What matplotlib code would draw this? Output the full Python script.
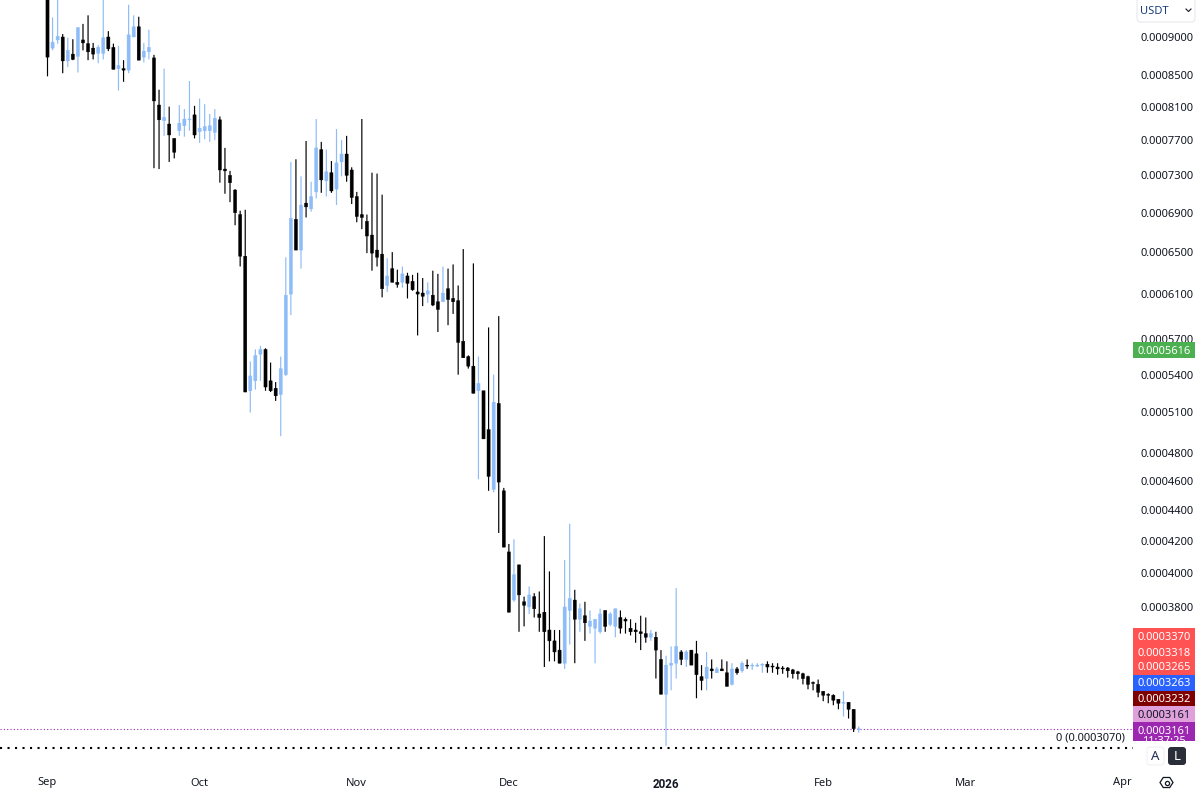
import numpy as np
import pandas as pd
import matplotlib
matplotlib.use("Agg")
import matplotlib.pyplot as plt
import matplotlib.dates as mdates
from matplotlib.patches import FancyBboxPatch, Rectangle, Polygon

plt.rcParams['font.family'] = ['Noto Sans', 'DejaVu Sans']

# daily candles, prices in units of 1e-4 USDT
start_date = "2025-09-01"
opens = [
    9.70, 8.85, 8.96, 9.00, 8.68, 8.77, 8.74, 8.96, 8.91, 8.85,
    8.78, 8.78, 9.00, 8.86, 8.58, 8.58, 8.56, 9.00, 9.14, 8.73,
    8.80, 8.72, 8.12, 7.93, 7.89, 7.72, 7.81, 7.87, 7.94, 8.00,
    7.80, 7.81, 7.81, 7.79, 7.94, 7.37, 7.30, 7.14, 6.88, 6.46,
    5.27, 5.35, 5.57, 5.61, 5.35, 5.29, 5.24, 5.40, 6.10, 6.83,
    6.52, 7.00, 6.94, 7.12, 7.59, 7.24, 7.33, 7.15, 7.45, 7.54,
    7.36, 7.07, 6.88, 6.81, 6.67, 6.52, 6.48, 6.18, 6.34, 6.21,
    6.21, 6.27, 6.22, 6.12, 6.11, 6.10, 6.09, 6.03, 6.03, 6.15,
    6.06, 6.04, 5.68, 5.55, 5.47, 5.27, 5.27, 4.97, 4.54, 5.17,
    4.53, 4.13, 3.84, 4.05, 3.83, 3.80, 3.86, 3.76, 3.77, 3.67,
    3.61, 3.56, 3.49, 3.78, 3.84, 3.73, 3.75, 3.69, 3.68, 3.66,
    3.78, 3.70, 3.69, 3.74, 3.73, 3.68, 3.67, 3.66, 3.65, 3.63,
    3.63, 3.51, 3.33, 3.48, 3.49, 3.55, 3.51, 3.56, 3.54, 3.42,
    3.41, 3.46, 3.44, 3.46, 3.44, 3.38, 3.46, 3.45, 3.48, 3.475,
    3.475, 3.48, 3.485, 3.475, 3.47, 3.465, 3.465, 3.455, 3.445, 3.435,
    3.42, 3.39, 3.38, 3.345, 3.33, 3.325, 3.305, 3.285, 3.29, 3.255, 3.156,
]
highs = [
    9.85, 9.27, 9.60, 9.04, 8.99, 8.97, 9.13, 9.18, 9.30, 8.92,
    8.89, 9.60, 9.08, 8.91, 8.88, 8.69, 9.45, 9.30, 9.28, 8.92,
    9.10, 8.76, 8.31, 8.58, 8.10, 7.72, 8.12, 8.07, 8.42, 8.11,
    8.20, 8.13, 8.01, 8.07, 7.98, 7.61, 7.35, 7.15, 6.92, 6.93,
    5.51, 5.61, 5.64, 5.62, 5.50, 5.34, 5.55, 6.45, 7.45, 7.48,
    7.29, 7.69, 7.23, 7.95, 7.68, 7.59, 7.46, 7.83, 7.70, 7.75,
    7.39, 7.12, 7.95, 6.88, 7.33, 7.32, 7.09, 6.44, 6.50, 6.33,
    6.36, 6.30, 6.28, 6.30, 6.25, 6.21, 6.32, 6.29, 6.36, 6.34,
    6.38, 6.18, 6.53, 5.56, 6.39, 5.55, 5.27, 5.80, 5.40, 5.90,
    4.55, 4.18, 4.21, 4.05, 3.86, 3.92, 3.88, 3.89, 4.23, 4.01,
    3.67, 3.67, 4.08, 4.31, 3.90, 3.82, 3.83, 3.78, 3.73, 3.79,
    3.78, 3.77, 3.79, 3.78, 3.74, 3.73, 3.71, 3.75, 3.74, 3.67,
    3.66, 3.56, 3.53, 3.58, 3.91, 3.56, 3.56, 3.56, 3.61, 3.48,
    3.55, 3.51, 3.47, 3.51, 3.50, 3.49, 3.47, 3.50, 3.51, 3.49,
    3.49, 3.49, 3.50, 3.49, 3.49, 3.475, 3.47, 3.46, 3.45, 3.44,
    3.425, 3.395, 3.405, 3.345, 3.335, 3.33, 3.305, 3.345, 3.29, 3.255, 3.172,
]
lows = [
    8.48, 8.82, 8.91, 8.52, 8.60, 8.69, 8.53, 8.82, 8.69, 8.70,
    8.65, 8.70, 8.81, 8.57, 8.30, 8.41, 8.52, 9.00, 8.69, 8.66,
    8.70, 7.38, 7.37, 7.75, 7.45, 7.49, 7.75, 7.74, 7.81, 7.72,
    7.67, 7.71, 7.68, 7.70, 7.22, 7.10, 7.01, 6.77, 6.36, 5.26,
    5.10, 5.28, 5.35, 5.27, 5.26, 5.19, 4.92, 5.39, 5.91, 6.52,
    6.34, 6.85, 6.91, 7.05, 7.11, 7.07, 7.11, 6.98, 7.29, 7.23,
    6.99, 6.80, 6.73, 6.49, 6.32, 6.36, 6.07, 6.12, 6.21, 6.16,
    6.16, 6.06, 6.13, 5.73, 5.99, 6.02, 5.99, 5.76, 6.03, 5.82,
    5.92, 5.40, 5.54, 5.45, 5.25, 4.61, 4.90, 4.53, 4.52, 4.25,
    4.16, 3.77, 3.83, 3.66, 3.69, 3.76, 3.74, 3.66, 3.47, 3.50,
    3.50, 3.49, 3.46, 3.59, 3.49, 3.66, 3.61, 3.65, 3.49, 3.65,
    3.66, 3.69, 3.63, 3.65, 3.65, 3.64, 3.60, 3.56, 3.60, 3.61,
    3.41, 3.33, 3.08, 3.35, 3.41, 3.48, 3.47, 3.48, 3.31, 3.35,
    3.35, 3.41, 3.44, 3.45, 3.37, 3.375, 3.43, 3.44, 3.46, 3.455,
    3.47, 3.44, 3.44, 3.44, 3.43, 3.435, 3.415, 3.41, 3.405, 3.38,
    3.355, 3.35, 3.315, 3.295, 3.285, 3.275, 3.255, 3.22, 3.21, 3.145, 3.142,
]
closes = [
    8.73, 8.93, 9.01, 8.68, 8.82, 8.70, 9.13, 8.92, 8.80, 8.77,
    8.86, 8.99, 8.84, 8.57, 8.62, 8.56, 9.03, 9.14, 8.69, 8.81,
    8.86, 8.17, 7.94, 7.97, 7.76, 7.56, 7.90, 7.95, 7.95, 7.76,
    7.84, 7.86, 7.87, 7.96, 7.36, 7.35, 7.22, 6.90, 6.46, 5.26,
    5.39, 5.56, 5.61, 5.30, 5.27, 5.23, 5.45, 6.09, 6.84, 6.52,
    6.98, 6.96, 7.07, 7.61, 7.25, 7.34, 7.13, 7.44, 7.54, 7.30,
    7.06, 6.86, 6.85, 6.66, 6.49, 6.45, 6.15, 6.27, 6.21, 6.19,
    6.29, 6.20, 6.14, 6.10, 6.08, 6.13, 6.00, 5.96, 6.11, 6.05,
    6.03, 5.67, 5.54, 5.47, 5.25, 5.33, 4.90, 4.63, 5.18, 4.59,
    4.16, 3.77, 3.99, 3.87, 3.81, 3.87, 3.79, 3.74, 3.66, 3.61,
    3.55, 3.49, 3.80, 3.85, 3.73, 3.79, 3.71, 3.72, 3.73, 3.76,
    3.69, 3.76, 3.79, 3.68, 3.72, 3.66, 3.66, 3.65, 3.63, 3.65,
    3.56, 3.33, 3.48, 3.49, 3.58, 3.51, 3.55, 3.48, 3.43, 3.40,
    3.47, 3.45, 3.46, 3.45, 3.37, 3.46, 3.44, 3.49, 3.475, 3.48,
    3.48, 3.485, 3.47, 3.47, 3.46, 3.46, 3.45, 3.435, 3.435, 3.41,
    3.38, 3.385, 3.34, 3.325, 3.325, 3.30, 3.285, 3.29, 3.255, 3.161, 3.161,
]

price_ticks = [9.0, 8.5, 8.1, 7.7, 7.3, 6.9, 6.5, 6.1, 5.7, 5.4, 5.1, 4.8, 4.6, 4.4, 4.2, 4.0, 3.8]
month_labels = ["Sep", "Oct", "Nov", "Dec", "2026", "Feb", "Mar", "Apr"]
month_starts = ["2025-09-01", "2025-10-01", "2025-11-01", "2025-12-01",
                "2026-01-01", "2026-02-01", "2026-03-01", "2026-04-01"]

last_price = 3.161
zero_level = 3.070
green_label = ("0.0005616", 5.616)
# right-hand price tags, stacked (text, fill, text colour)
tag_text = ["0.0003370", "0.0003318", "0.0003265", "0.0003263", "0.0003232", "0.0003161", "0.0003161"]
tag_fill = ["#ff5252", "#ff5252", "#ff5252", "#2962ff", "#7f0000", "#dfa0dc", "#9c27b0"]
tag_color = ["white", "white", "white", "white", "white", "#131722", "white"]

UP = "#8dbcf8"
DOWN = "#000000"
TEXT = "#131722"
FONT = 8.0

opens = np.array(opens)
highs = np.array(highs)
lows = np.array(lows)
closes = np.array(closes)
dates = mdates.date2num(pd.date_range(start_date, periods=len(opens)))
colors = [UP if c >= o else DOWN for o, c in zip(opens, closes)]

fig = plt.figure(figsize=(12, 7.93), dpi=100, facecolor="white")
ax = fig.add_axes([0, 1 - 765 / 793, 1133 / 1200, 765 / 793])

# log price scale, one pixel is about 0.15 %
ax.set_yscale("log")
ax.set_ylim(2.992, 9.518)
first_day = dates[0]
ax.set_xlim(first_day - 47.5 / 5.07, first_day + (1133 - 47.5) / 5.07)

wicks = ax.vlines(dates, lows, highs, colors=colors, linewidth=0.85, zorder=2)
wicks.set_snap(False)
body_low = np.minimum(opens, closes)
body_high = np.maximum(opens, closes)
bars = ax.bar(dates, body_high - body_low, bottom=body_low, width=0.62,
              color=colors, edgecolor=colors, linewidth=0.3, zorder=3)
for b in bars:
    b.set_snap(False)

ax.axhline(last_price, color="#9c27b0", linewidth=0.8, linestyle=(0, (1, 2)), zorder=1)
ax.axhline(zero_level, color="black", linewidth=1.5, linestyle=(0, (1, 2.6)), zorder=1)
ax.text(1125 / 1133, zero_level * 1.0155, "0 (0.0003070)", transform=ax.get_yaxis_transform(),
        ha="right", va="center", fontsize=FONT, color=TEXT)

for side in ax.spines.values():
    side.set_visible(False)
ax.yaxis.tick_right()
ax.set_yticks(price_ticks)
ax.set_yticklabels([f"{p * 1e-4:.7f}" for p in price_ticks], fontsize=FONT, color=TEXT)
ax.minorticks_off()
ax.tick_params(axis="y", length=0, pad=5.5)
ax.set_xticks(mdates.date2num(pd.to_datetime(month_starts)))
ax.set_xticklabels(month_labels, fontsize=FONT, color=TEXT)
ax.tick_params(axis="x", length=0, pad=9)
# the year label is the only bold one
year_label = ax.get_xticklabels()[4]
year_label.set_fontfamily("Roboto")
year_label.set_fontweight("bold")
year_label.set_fontsize(8.4)

# everything around the plot area is placed in pixel coordinates
ui = fig.add_axes([0, 0, 1, 1], facecolor="none")
ui.set_xlim(0, 1200)
ui.set_ylim(793, 0)
ui.axis("off")

ui.add_patch(Rectangle((1133, 342), 62, 16, facecolor="#4caf50", edgecolor="none"))
ui.text(1164, 351, green_label[0], color="white", ha="center", va="center", fontsize=FONT)

tag_y = [628, 644, 659, 675, 691, 706, 722]
tag_h = [16, 15, 16, 16, 15, 16, 19]
for y, h, txt, fill, col in zip(tag_y, tag_h, tag_text, tag_fill, tag_color):
    ui.add_patch(Rectangle((1133, y), 62, h, facecolor=fill, edgecolor="none"))
    ui.text(1164, y + 9, txt, color=col, ha="center", va="center", fontsize=FONT)

# countdown under the last price, cut off by its tag
clip_box = Rectangle((1133, 722), 62, 19, transform=ui.transData)
countdown = ui.text(1164, 742, "11:37:25", color="white", ha="center", va="center", fontsize=FONT)
countdown.set_clip_path(clip_box)

# currency selector
ui.add_patch(FancyBboxPatch((1137, -8), 58, 30, boxstyle="round,pad=0,rounding_size=4",
                            facecolor="white", edgecolor="#e8e9ed", linewidth=0.8))
ui.text(1140, 11, "USDT", color="#1c3f7c", ha="left", va="center", fontsize=FONT)
ui.plot([1186, 1188.5, 1191], [9, 11.5, 9], color=TEXT, linewidth=0.8)

# auto / log buttons
ui.add_patch(FancyBboxPatch((1147, 747), 17, 18, boxstyle="round,pad=0,rounding_size=3",
                            facecolor="white", edgecolor="#f0f1f4", linewidth=0.8))
ui.text(1155.5, 756, "A", color="#1c2a55", ha="center", va="center", fontsize=9.5)
ui.add_patch(FancyBboxPatch((1168, 747), 18, 18, boxstyle="round,pad=0,rounding_size=3",
                            facecolor="#2a2e39", edgecolor="none"))
ui.text(1177, 756, "L", color="white", ha="center", va="center", fontsize=9.5)

# settings icon
hex_x = 1166.5 + 6.5 * np.cos(np.arange(6) * np.pi / 3)
hex_y = 782.5 + 5.8 * np.sin(np.arange(6) * np.pi / 3)
ui.add_patch(Polygon(np.column_stack([hex_x, hex_y]), closed=True, fill=False, edgecolor=TEXT, linewidth=0.9))
ui.plot([1166.5], [782.5], marker="o", markersize=3, markerfacecolor="none", markeredgecolor=TEXT, markeredgewidth=0.9)

fig.savefig("out.png", dpi=100)
